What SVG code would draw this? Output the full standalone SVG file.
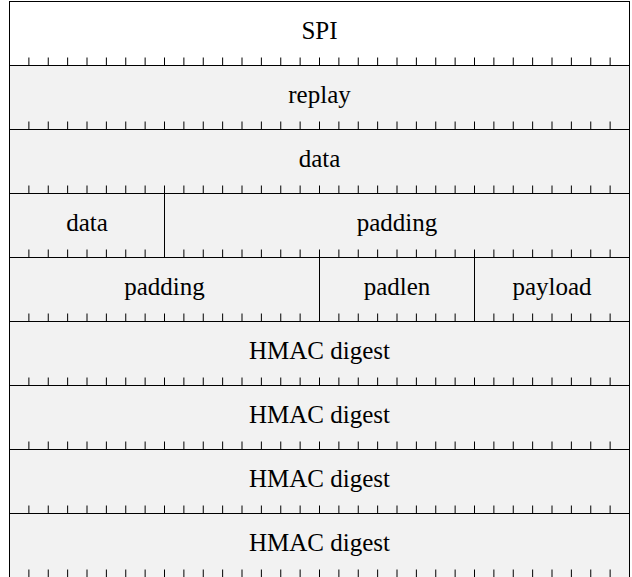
<svg xmlns="http://www.w3.org/2000/svg" xmlns:xlink="http://www.w3.org/1999/xlink" width="632" height="577" viewBox="0 0 632 577">
<style>
.f{fill:#f2f2f2;stroke:#000;stroke-width:1}
.w{fill:#ffffff;stroke:#000;stroke-width:1}
.t{font-family:"Liberation Serif","Times New Roman",serif;font-size:25px;fill:#000;text-anchor:middle}
.k{fill:none;stroke:#000;stroke-width:1}
</style>
<defs>
<path id="ticks" class="k" d="M28.875 -8V0M48.25 -8V0M67.625 -8V0M87 -8V0M106.375 -8V0M125.75 -8V0M145.125 -8V0M164.5 -8V0M183.875 -8V0M203.25 -8V0M222.625 -8V0M242 -8V0M261.375 -8V0M280.75 -8V0M300.125 -8V0M319.5 -8V0M338.875 -8V0M358.25 -8V0M377.625 -8V0M397 -8V0M416.375 -8V0M435.75 -8V0M455.125 -8V0M474.5 -8V0M493.875 -8V0M513.25 -8V0M532.625 -8V0M552 -8V0M571.375 -8V0M590.75 -8V0M610.125 -8V0"/>
</defs>
<g id="spi"><rect class="w" x="9.5" y="1.5" width="620" height="64"/><text class="t" x="319.5" y="38.5">SPI</text></g>
<g id="replay"><rect class="f" x="9.5" y="65.5" width="620" height="64"/><text class="t" x="319.5" y="102.5">replay</text></g>
<g id="data1"><rect class="f" x="9.5" y="129.5" width="620" height="64"/><text class="t" x="319.5" y="166.5">data</text></g>
<g id="data2"><rect class="f" x="9.5" y="193.5" width="155" height="64"/><text class="t" x="87" y="230.5">data</text></g>
<g id="padding1"><rect class="f" x="164.5" y="193.5" width="465" height="64"/><text class="t" x="397" y="230.5">padding</text></g>
<g id="padding2"><rect class="f" x="9.5" y="257.5" width="310" height="64"/><text class="t" x="164.5" y="294.5">padding</text></g>
<g id="padlen"><rect class="f" x="319.5" y="257.5" width="155" height="64"/><text class="t" x="397" y="294.5">padlen</text></g>
<g id="payload"><rect class="f" x="474.5" y="257.5" width="155" height="64"/><text class="t" x="552" y="294.5">payload</text></g>
<g id="hmac1"><rect class="f" x="9.5" y="321.5" width="620" height="64"/><text class="t" x="319.5" y="358.5">HMAC digest</text></g>
<g id="hmac2"><rect class="f" x="9.5" y="385.5" width="620" height="64"/><text class="t" x="319.5" y="422.5">HMAC digest</text></g>
<g id="hmac3"><rect class="f" x="9.5" y="449.5" width="620" height="64"/><text class="t" x="319.5" y="486.5">HMAC digest</text></g>
<g id="hmac4"><rect class="f" x="9.5" y="513.5" width="620" height="64"/><text class="t" x="319.5" y="550.5">HMAC digest</text></g>
<g id="bit-ticks">
<use xlink:href="#ticks" y="65.5"/>
<use xlink:href="#ticks" y="129.5"/>
<use xlink:href="#ticks" y="193.5"/>
<use xlink:href="#ticks" y="257.5"/>
<use xlink:href="#ticks" y="321.5"/>
<use xlink:href="#ticks" y="385.5"/>
<use xlink:href="#ticks" y="449.5"/>
<use xlink:href="#ticks" y="513.5"/>
<use xlink:href="#ticks" y="577.5"/>
</g>
</svg>
